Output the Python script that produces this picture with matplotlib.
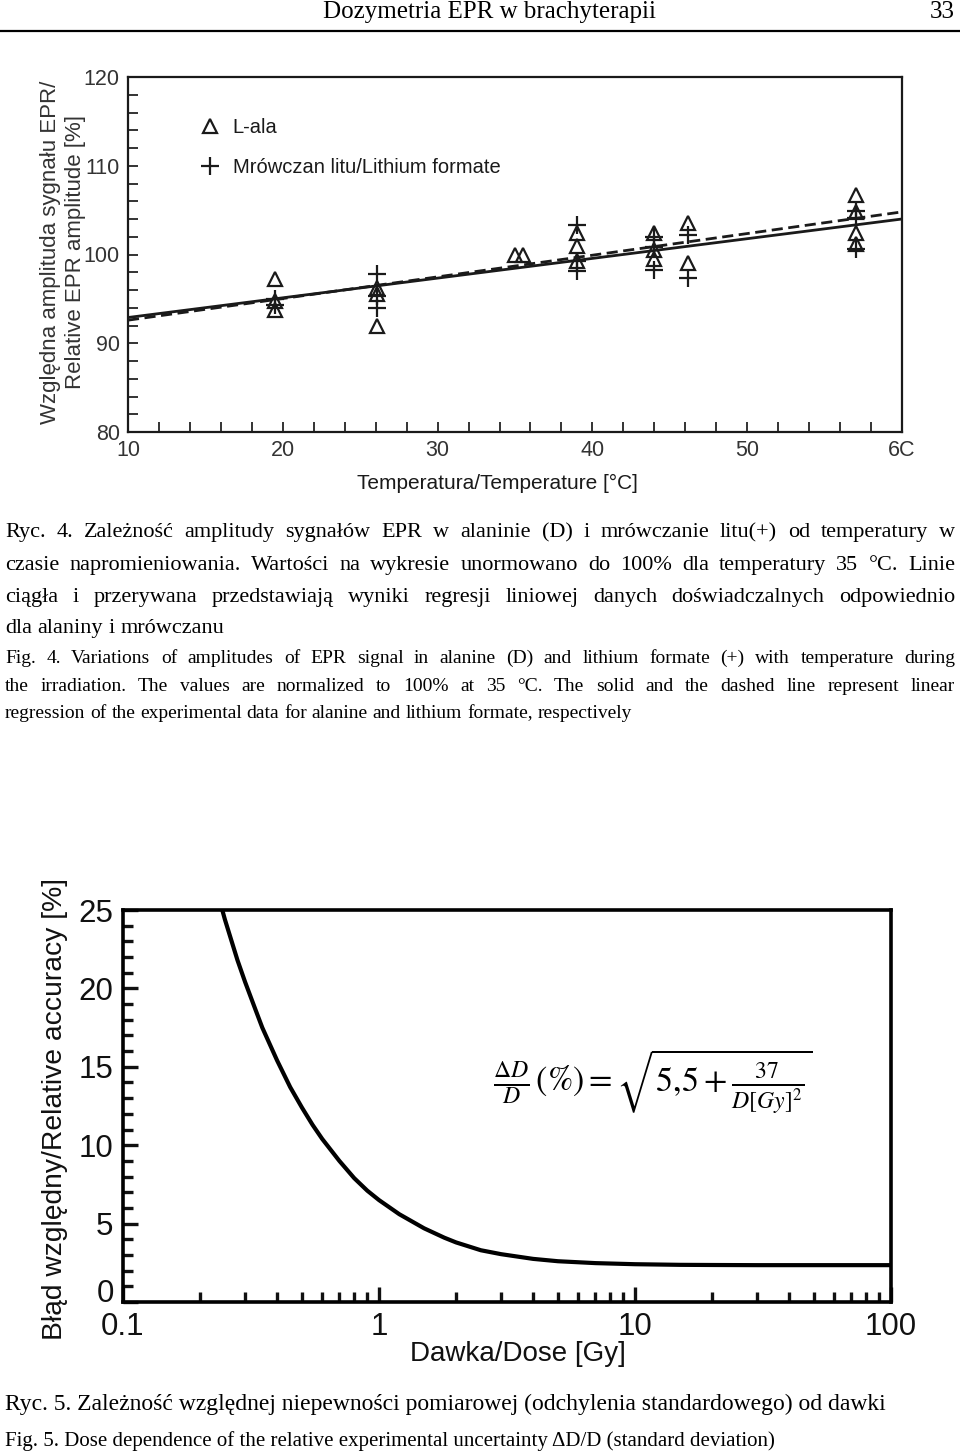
import numpy as np
import matplotlib
matplotlib.use("Agg")
import matplotlib.pyplot as plt
from matplotlib.ticker import MultipleLocator, FixedLocator, NullFormatter

# --- dane: Ryc. 4 (temperatura) ---
ala_temp = [19.5, 19.5, 19.5, 26.1, 26.1, 26.1, 35.0, 35.5, 39.0, 39.0, 39.0,
            44.0, 44.0, 44.0, 46.2, 46.2, 57.0, 57.0, 57.0, 57.0]
ala_amp = [97.2, 94.8, 93.8, 96.2, 95.6, 92.0, 100.0, 100.0, 102.4, 101.0, 99.3,
           102.4, 100.5, 99.5, 103.5, 99.0, 106.7, 104.8, 102.4, 101.2]
lif_temp = [19.5, 19.5, 26.1, 26.1, 26.1, 39.0, 39.0, 39.0,
            44.0, 44.0, 44.0, 46.2, 46.2, 57.0, 57.0, 57.0]
lif_amp = [95.0, 94.3, 97.8, 95.3, 94.0, 103.3, 99.3, 98.1,
           102.0, 100.9, 98.3, 102.2, 97.4, 104.9, 104.1, 100.6]
fit_temp = [10, 60]
ala_fit = [92.9, 104.0]
lif_fit = [92.6, 104.8]

# --- dane: Ryc. 5 (niepewnosc vs dawka) ---
dose = [0.22, 0.25, 0.28, 0.3, 0.33, 0.35, 0.4, 0.45, 0.5, 0.55, 0.6, 0.7, 0.8, 0.9,
        1.0, 1.2, 1.5, 1.8, 2.0, 2.5, 3.0, 4.0, 5.0, 7.0, 10, 15, 20, 30, 50, 100]
accuracy = [27.7, 24.4, 21.8, 20.4, 18.6, 17.5, 15.4, 13.7, 12.4, 11.3, 10.4, 9.0, 7.9, 7.1,
            6.5, 5.6, 4.7, 4.1, 3.8, 3.3, 3.05, 2.75, 2.6, 2.48, 2.41, 2.37, 2.36, 2.35, 2.35, 2.35]
acc_ticks = [0, 5, 10, 15, 20, 25]

W, H = 960, 1453
fig = plt.figure(figsize=(W / 100, H / 100), dpi=100)
serif = "Liberation Serif"
sans = "Liberation Sans"
ink = "#1a1a1a"


def fx(px):
    return px / W


def fy(py):
    return 1 - py / H


# naglowek strony
fig.text(fx(490), fy(18), "Dozymetria EPR w brachyterapii", ha="center", va="baseline",
         family=serif, fontsize=18)
fig.text(fx(955), fy(18), "33", ha="right", va="baseline", family=serif, fontsize=18)
fig.add_artist(plt.Line2D([0, 1], [fy(31), fy(31)], color="black", lw=1.6))

# --- wykres 1 ---
ax1 = fig.add_axes([fx(128), fy(432), fx(902 - 128), (432 - 77) / H])
ax1.plot(fit_temp, ala_fit, color=ink, lw=2.0, solid_capstyle="butt")
ax1.plot(fit_temp, lif_fit, color=ink, lw=2.0, ls=(0, (4, 2)))
ax1.plot(ala_temp, ala_amp, ls="none", marker="^", ms=10, mfc="none", mec=ink, mew=1.6,
         label="L-ala")
ax1.plot(lif_temp, lif_amp, ls="none", marker="+", ms=13, mec=ink, mew=1.6,
         label="Mrówczan litu/Lithium formate")
ax1.set_xlim(10, 60)
ax1.set_ylim(80, 120)
ax1.xaxis.set_major_locator(MultipleLocator(10))
ax1.xaxis.set_minor_locator(MultipleLocator(2))
ax1.yaxis.set_major_locator(MultipleLocator(10))
ax1.yaxis.set_minor_locator(MultipleLocator(2))
ax1.tick_params(which="both", direction="in", top=False, right=False, colors="#333333",
                labelsize=15.5, width=1.4)
ax1.tick_params(which="major", length=7, pad=6)
ax1.tick_params(which="minor", length=7)
ax1.set_xticks([10, 20, 30, 40, 50, 60])
ax1.set_xticklabels(["10", "20", "30", "40", "50", "6C"])
for lab in ax1.get_xticklabels() + ax1.get_yticklabels():
    lab.set_family(sans)
for sp in ax1.spines.values():
    sp.set_linewidth(1.6)
    sp.set_color(ink)
ax1.legend(loc="upper left", bbox_to_anchor=(0.07, 0.935), frameon=False,
           prop={"family": sans, "size": 14.5}, handletextpad=0.6, labelspacing=1.05,
           handlelength=1.0, labelcolor=ink)
fig.text(fx(497), fy(483), "Temperatura/Temperature [°C]", ha="center", va="center",
         family=sans, fontsize=15, color=ink)
fig.text(fx(63), fy(252), "Względna amplituda sygnału EPR/\nRelative EPR amplitude [%]",
         ha="center", va="center", rotation=90, family=sans, fontsize=16, color="#333333",
         linespacing=1.2)


# --- podpis Ryc. 4 (wyjustowany) ---
def justify(line, ypx, size, last=False, x0=5, x1=955):
    words = line.split()
    texts = [fig.text(0, fy(ypx), w, family=serif, fontsize=size, va="baseline") for w in words]
    r = fig.canvas.get_renderer()
    widths = [t.get_window_extent(r).width for t in texts]
    space = size * 0.25 * 100 / 72
    gap = space if last else max((x1 - x0 - sum(widths)) / max(len(words) - 1, 1), 2)
    x = x0
    for t, w in zip(texts, widths):
        t.set_x(fx(x))
        x += w + gap


pl_lines = [
    "Ryc. 4. Zależność amplitudy sygnałów EPR w alaninie (D) i mrówczanie litu(+) od temperatury w",
    "czasie napromieniowania. Wartości na wykresie unormowano do 100% dla temperatury 35 °C. Linie",
    "ciągła i przerywana przedstawiają wyniki regresji liniowej danych doświadczalnych odpowiednio",
    "dla alaniny i mrówczanu",
]
en_lines = [
    "Fig. 4. Variations of amplitudes of EPR signal in alanine (D) and lithium formate (+) with temperature during",
    "the irradiation. The values are normalized to 100% at 35 °C. The solid and the dashed line represent linear",
    "regression of the experimental data for alanine and lithium formate, respectively",
]
for i, (line, ypx) in enumerate(zip(pl_lines, [537, 570, 602, 633])):
    justify(line, ypx, 16, last=(i == len(pl_lines) - 1))
for i, (line, ypx) in enumerate(zip(en_lines, [663, 691, 718])):
    justify(line, ypx, 14, last=(i == len(en_lines) - 1))

# --- wykres 2 ---
ax2 = fig.add_axes([fx(123), fy(1302), fx(891 - 123), (1302 - 910) / H])
ax2.plot(dose, accuracy, color="black", lw=3.0)
ax2.set_xscale("log")
ax2.set_xlim(0.1, 100)
ax2.set_ylim(0, 25)
ax2.xaxis.set_major_locator(FixedLocator([0.1, 1, 10, 100]))
ax2.xaxis.set_minor_locator(FixedLocator([m * 10.0 ** e for e in (-1, 0, 1) for m in range(2, 10)]))
ax2.xaxis.set_minor_formatter(NullFormatter())
ax2.set_xticklabels(["0.1", "1", "10", "100"])
# "0" rysowane osobno nieco wyzej, zeby nie wchodzilo na "0.1"
ax2.set_yticks(acc_ticks)
ax2.set_yticklabels([""] + [str(v) for v in acc_ticks[1:]])
ax2.yaxis.set_minor_locator(MultipleLocator(1))
ax2.tick_params(which="both", direction="in", top=False, right=False, width=2.4,
                labelsize=22.5, colors="#111111")
ax2.tick_params(axis="x", which="major", length=11, pad=7)
ax2.tick_params(axis="y", which="major", length=11, pad=7)
ax2.tick_params(which="minor", length=7)
for lab in ax2.get_xticklabels() + ax2.get_yticklabels():
    lab.set_family(sans)
ax2.text(-9 / 768, acc_ticks[0], str(acc_ticks[0]), transform=ax2.get_yaxis_transform(),
         ha="right", va="baseline", family=sans, fontsize=22.5, color="#111111")
for sp in ax2.spines.values():
    sp.set_linewidth(2.6)
ax2.text(0.69, 0.56, r"$\frac{\Delta D}{D}\,(\%) = \sqrt{5{,}5 + \frac{37}{D[Gy]^2}}$",
         transform=ax2.transAxes, ha="center", va="center", fontsize=24.5,
         math_fontfamily="stix")
fig.text(fx(518), fy(1354), "Dawka/Dose [Gy]", ha="center", va="center", family=sans,
         fontsize=20, color="#111111")
fig.text(fx(55), fy(1109), "Błąd względny/Relative accuracy [%]", ha="center", va="center",
         rotation=90, family=sans, fontsize=20.3, color="#111111")

fig.text(fx(5), fy(1410), "Ryc. 5. Zależność względnej niepewności pomiarowej (odchylenia standardowego) od dawki",
         ha="left", va="baseline", family=serif, fontsize=17)
fig.text(fx(5), fy(1446), "Fig. 5. Dose dependence of the relative experimental uncertainty ΔD/D (standard deviation)",
         ha="left", va="baseline", family=serif, fontsize=15)

fig.savefig("out.png", dpi=100)
